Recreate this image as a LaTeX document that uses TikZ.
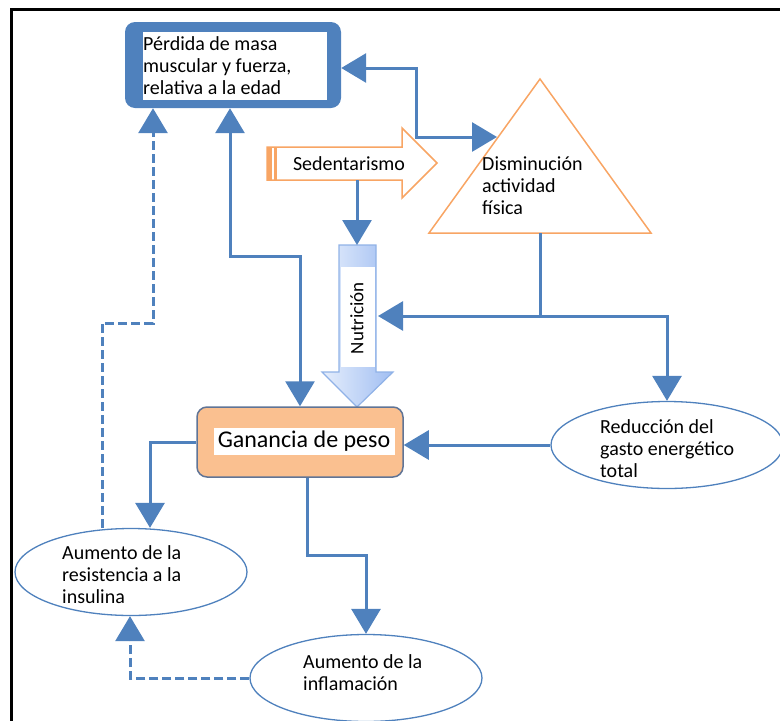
\documentclass[tikz,border=0pt]{standalone}
\usepackage{fontspec}
\setmainfont{Carlito}
\usepackage{xcolor}
\usetikzlibrary{arrows.meta,shapes.geometric}
\definecolor{azul}{RGB}{79,129,189}
\definecolor{naranja}{RGB}{248,165,100}
\definecolor{melon}{RGB}{250,192,144}
\definecolor{bordeg}{RGB}{96,116,150}
\definecolor{celeste}{RGB}{160,190,242}
\definecolor{celesteclaro}{RGB}{230,238,252}
\newcommand\texto{\fontsize{20}{22}\selectfont}
\tikzset{
	flecha/.style={azul,line width=3pt,-{Triangle[length=25pt,width=29pt]}},
	doble/.style={flecha,{Triangle[length=25pt,width=29pt]}-{Triangle[length=25pt,width=29pt]}},
	discontinua/.style={flecha,dash pattern=on 9pt off 4pt},
	elipse/.style={ellipse,draw=azul,fill=white,line width=1.3pt,minimum width=232pt,minimum height=87pt,inner sep=0pt},
	txt/.style={anchor=north west,inner sep=0pt,align=left,font=\texto},
	forma/.style={naranja,line width=1.5pt}
}
\begin{document}
\begin{tikzpicture}[x=1pt,y=-1pt]
		\useasboundingbox(0,0)rectangle(780,721);
		\draw[line width=3pt](11,721)--(11,9)--(780,9);
		\node[fill=azul,rounded corners=10pt,minimum width=216pt,minimum height=86pt,inner sep=0pt](perdida)at(233,65){};
		\node[fill=white,minimum width=184pt,minimum height=68pt,inner sep=0pt](perdidain)at(235,66){};
		\node[txt](perdidatxt)at(143,36){Pérdida de masa\\muscular y fuerza,\\relativa a la edad};
		\draw[forma,fill=white](267,147)--(402,147)--(402,128)--(437,163)--(402,198)--(402,180)--(267,180)--cycle;
		\fill[naranja](267,147)rectangle(272,180);
		\fill[naranja](274,147)rectangle(277,180);
		\node[font=\texto,inner sep=0pt](sedent)at(349,164){Sedentarismo};
		\draw[forma](429,233)--(540,79)--(651,233)--cycle;
		\node[txt](disminucion)at(482,157){Disminución\\actividad\\física};
		\draw[draw=celeste!80!azul,line width=1.2pt,left color=celesteclaro,right color=celeste](339,245)--(376,245)--(376,372)--(393,372)--(357,407)--(322,372)--(339,372)--cycle;
		\fill[white](340.5,267)rectangle(374.5,367);
		\node[rotate=90,font=\fontsize{19}{22}\selectfont,inner sep=0pt](nutricion)at(357,318){Nutrición};
		\node[draw=bordeg,fill=melon,rounded corners=10pt,line width=1.5pt,minimum width=206pt,minimum height=70pt,inner sep=0pt](ganancia)at(300,442){};
		\node[fill=white,minimum width=181pt,minimum height=27pt,inner sep=0pt,font=\fontsize{24}{26}\selectfont](gantxt)at(304,441){Ganancia de peso};
		\node[elipse](reduccion)at(667,445){};
		\node[txt](reducciontxt)at(600,419){Reducción del\\gasto energético\\total};
		\node[elipse](resistencia)at(131,572){};
		\node[txt](resistenciatxt)at(62,545){Aumento de la\\resistencia a la\\insulina};
		\node[elipse](inflamacion)at(366,678){};
		\node[txt](inflamaciontxt)at(303,654){Aumento de la\\inflamación};
		\coordinate(sedbase)at(357,180);
		\coordinate(nutsup)at(357,245);
		\coordinate(nutder)at(378,316);
		\coordinate(triizq)at(497,137);
		\coordinate(tribase)at(540,233);
		\coordinate(cruce)at(540,316);
		\draw[flecha](sedbase)--(nutsup);
		\draw[doble]([yshift=-3pt]perdida.east)-|(416,137)--(triizq);
		\draw[flecha](tribase)--(cruce)--(nutder);
		\draw[flecha](cruce)-|(reduccion.north);
		\draw[flecha](reduccion.west)--(reduccion.west-|ganancia.east);
		\draw[doble]([xshift=-3pt]perdida.south)|-(ganancia.north|-0,256)--(ganancia.north);
		\draw[flecha](ganancia.west)-|([xshift=19pt]resistencia.north);
		\draw[flecha]([xshift=7pt]ganancia.south)--++(0,78)-|(inflamacion.north);
		\draw[discontinua]([xshift=-29pt]resistencia.north)|-(153,323)--([xshift=-80pt]perdida.south);
		\draw[discontinua](inflamacion.west)-|([xshift=-1pt]resistencia.south);
\end{tikzpicture}
\end{document}
